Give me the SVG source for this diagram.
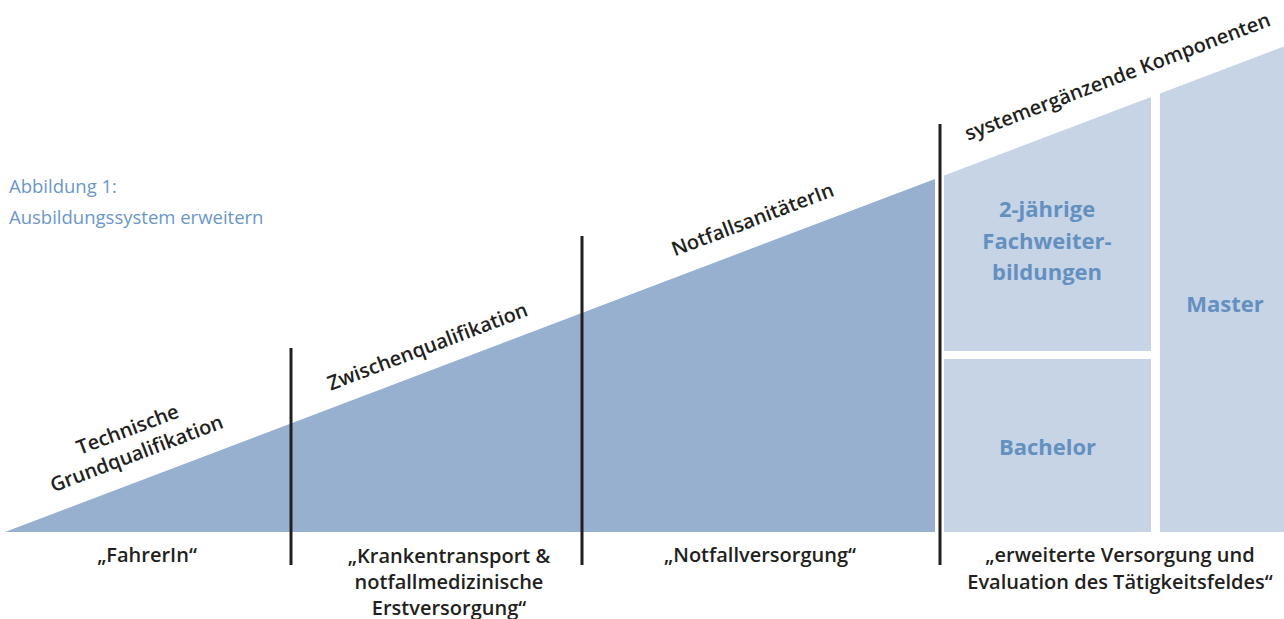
<svg xmlns="http://www.w3.org/2000/svg" width="1284" height="619" viewBox="0 0 1284 619">
<style>
.lbl{font-family:"Open Sans","Noto Sans",sans-serif;font-weight:600;font-size:20px;fill:#231f20;text-anchor:middle}
.box{font-family:"Open Sans","Noto Sans",sans-serif;font-weight:700;font-size:22px;fill:#6490c0;text-anchor:middle}
.cap{font-family:"Open Sans","Noto Sans",sans-serif;font-weight:400;font-size:18.5px;fill:#6b97c6}
.sep{stroke:#231f20;stroke-width:3}
</style>
<rect width="1284" height="619" fill="#ffffff"/>
<g id="caption">
<text class="cap" x="9" y="193">Abbildung 1:</text>
<text class="cap" x="9" y="224">Ausbildungssystem erweitern</text>
</g>
<g id="triangle">
<polygon points="5,532 935,178.9 935,532" fill="#98b0cf"/>
</g>
<g id="box-fachweiterbildungen">
<polygon points="944,175.6 1151,97 1151,351 944,351" fill="#c6d4e6"/>
<text class="box" x="1047" y="217">2-jährige</text>
<text class="box" x="1047" y="248.5">Fachweiter-</text>
<text class="box" x="1047" y="280">bildungen</text>
</g>
<g id="box-bachelor">
<rect x="944" y="359" width="207" height="173" fill="#c6d4e6"/>
<text class="box" x="1047.5" y="455">Bachelor</text>
</g>
<g id="box-master">
<polygon points="1160,93.6 1284,46.5 1284,532 1160,532" fill="#c6d4e6"/>
<text class="box" x="1225" y="312">Master</text>
</g>
<g id="connectors">
<line class="sep" x1="291" y1="348" x2="291" y2="565"/>
<line class="sep" x1="582" y1="236" x2="582" y2="565"/>
<line class="sep" x1="940" y1="124" x2="940" y2="565"/>
</g>
<g id="stage-labels">
<g transform="translate(130,436) rotate(-20.8)">
<text class="lbl" x="0" y="0">Technische</text>
<text class="lbl" x="0" y="25.6">Grundqualifikation</text>
</g>
<text class="lbl" transform="translate(430,353) rotate(-20.8)">Zwischenqualifikation</text>
<text class="lbl" transform="translate(755,226) rotate(-20.8)">NotfallsanitäterIn</text>
<text class="lbl" transform="translate(1120,83) rotate(-20.8)">systemergänzende Komponenten</text>
</g>
<g id="bottom-labels">
<text class="lbl" x="147" y="562">„FahrerIn“</text>
<text class="lbl" x="449" y="563">„Krankentransport &amp;</text>
<text class="lbl" x="449" y="589">notfallmedizinische</text>
<text class="lbl" x="449" y="615">Erstversorgung“</text>
<text class="lbl" x="760" y="562">„Notfallversorgung“</text>
<text class="lbl" x="1120" y="562">„erweiterte Versorgung und</text>
<text class="lbl" x="1120" y="589">Evaluation des Tätigkeitsfeldes“</text>
</g>
</svg>
